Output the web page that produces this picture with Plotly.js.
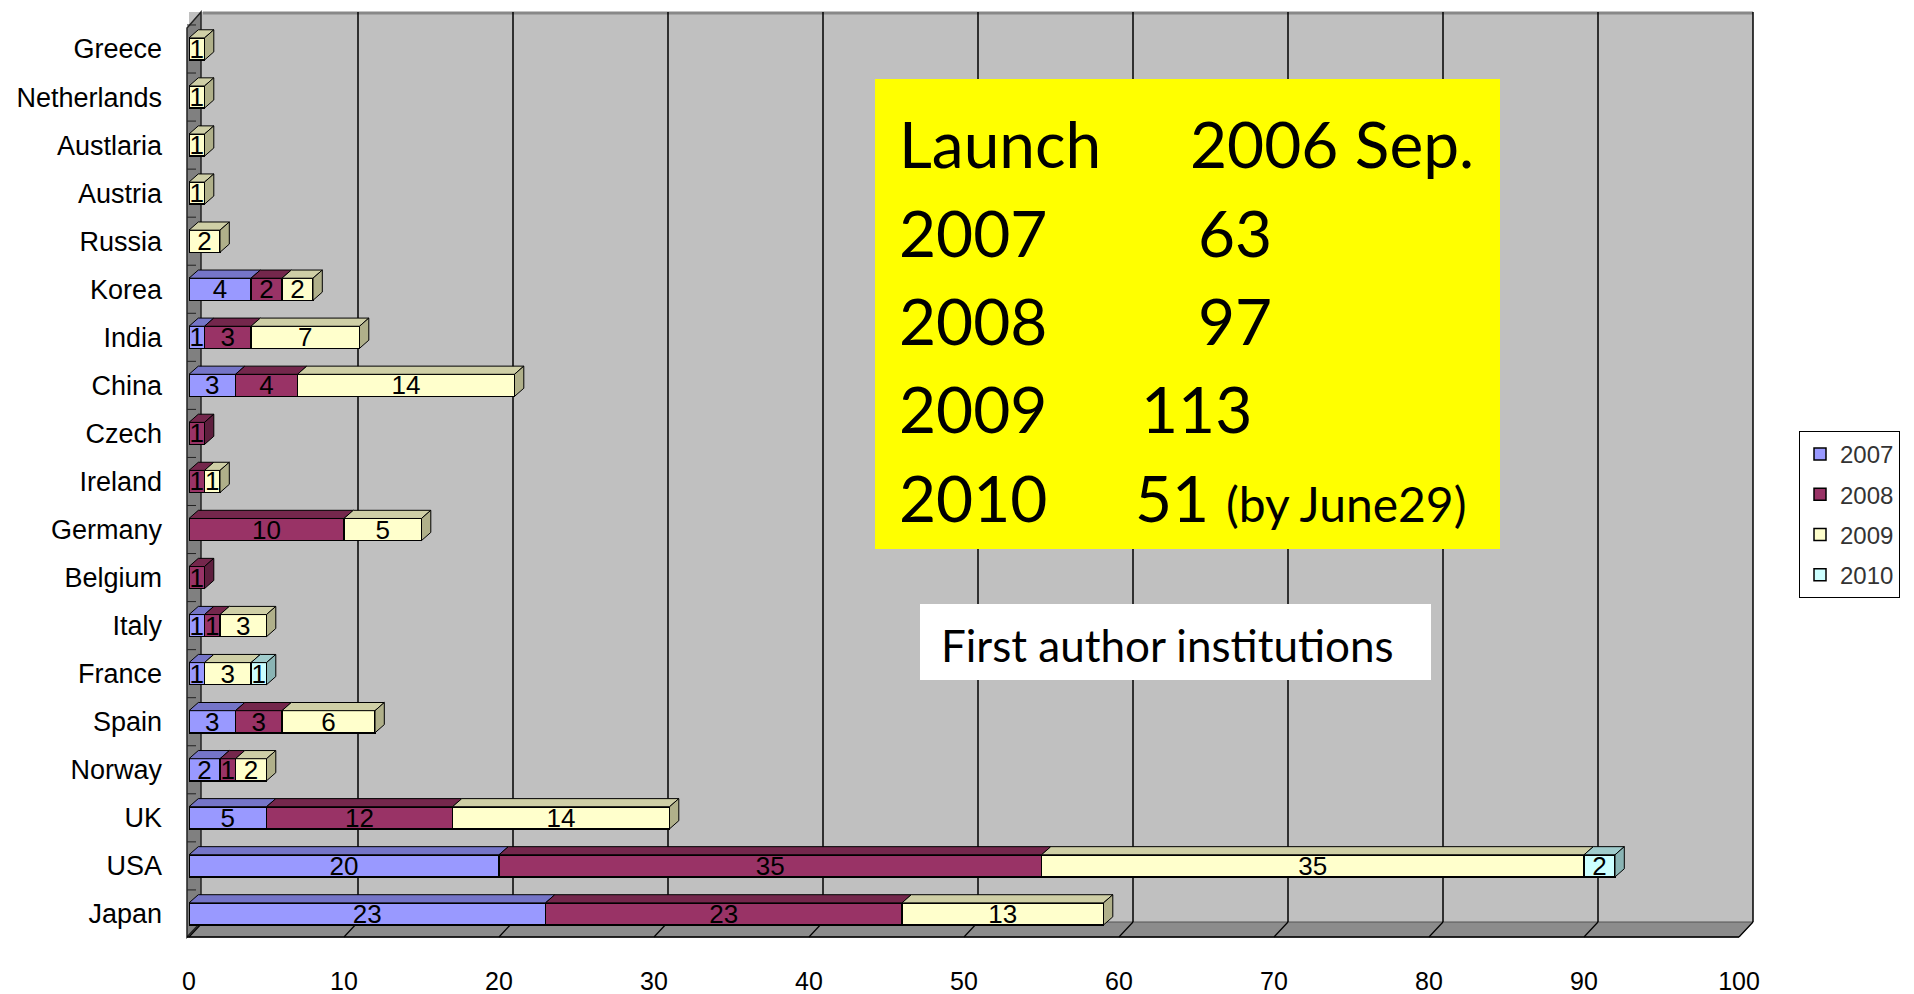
<!DOCTYPE html>
<html><head><meta charset="utf-8">
<script src="https://cdn.plot.ly/plotly-3.0.1.min.js"></script>
<style>html,body{margin:0;padding:0;background:#fff;} #chart{width:1914px;height:994px;}</style>
</head><body><div id="chart"></div>
<script>
// ---- data ----
const countries = ['Greece','Netherlands','Austlaria','Austria','Russia','Korea','India','China','Czech','Ireland','Germany','Belgium','Italy','France','Spain','Norway','UK','USA','Japan'];
const v2007 = [0,0,0,0,0,4,1,3,0,0,0,0,1,1,3,2,5,20,23];
const v2008 = [0,0,0,0,0,2,3,4,1,1,10,1,1,0,3,1,12,35,23];
const v2009 = [1,1,1,1,2,2,7,14,0,1,5,0,3,3,6,2,14,35,13];
const v2010 = [0,0,0,0,0,0,0,0,0,0,0,0,0,1,0,0,0,2,0];
const seriesNames = ['2007','2008','2009','2010'];
const xTickVals = [0,10,20,30,40,50,60,70,80,90,100];
const infoLeft = ['Launch','2007','2008','2009','2010'];
const infoRight = ['2006 Sep.','63','97','113','51'];
const infoNote = '(by June29)';
const boxTitle = 'First author institutions';

// ---- styling ----
const faceColors = ['#9999ff','#993366','#ffffcc','#ccffff'];
const topColors  = ['#7575c8','#74274c','#cfcfa6','#a0cccc'];
const sideColors = ['#6060a8','#5e1f3e','#b0b08a','#8ab4b4'];
const series = [v2007, v2008, v2009, v2010];

// pixel helpers (plot area: x 189..1739, y 12..937)
const L = 189, R = 1739, T = 12, B = 937;
const DX = 14, DY = 15; // 3D wall offset in px
const px = x => (x - L) / (R - L);
const py = y => (B - y) / (B - T);

const barFont = {family: 'Liberation Sans Narrow, Liberation Sans, Arial, sans-serif', size: 26, color: '#000'};

const traces = series.map((vals, s) => ({
  type: 'bar', orientation: 'h', name: seriesNames[s],
  y: countries, x: vals,
  legendgroup: seriesNames[s],
  marker: {color: faceColors[s], line: {color: '#000', width: 1.5}},
  text: vals.map(v => v > 0 ? String(v) : ''),
  textposition: 'inside', insidetextanchor: 'middle', textangle: 0,
  constraintext: 'none', textfont: barFont,
  hoverinfo: 'x+y+name'
}));

const bw = 0.46, dx = 0.6, dy = 0.17;
const shapes = [];
const wallPath = pts => 'M' + pts.map(p => px(p[0]) + ',' + py(p[1])).join(' L') + ' Z';
// back wall right strip
shapes.push({type:'path', xref:'paper', yref:'paper', layer:'below',
  path: wallPath([[R,T],[R+DX,T],[R+DX,B-DY],[R,B]]), fillcolor:'#c0c0c0', line:{color:'#c0c0c0', width:0}});
// floor
shapes.push({type:'path', xref:'paper', yref:'paper', layer:'below',
  path: wallPath([[L-2,B],[L+DX-2,B-DY],[R+DX,B-DY],[R,B]]), fillcolor:'#8c8c8c', line:{color:'#555', width:1}});
// left wall
shapes.push({type:'path', xref:'paper', yref:'paper', layer:'below',
  path: wallPath([[L-2,B],[L-2,T+16],[L+DX-2,T],[L+DX-2,B-DY]]), fillcolor:'#808080', line:{color:'#222', width:1.5}});
// top edge of back wall
shapes.push({type:'line', xref:'paper', yref:'paper', layer:'below',
  x0: px(L+DX), x1: px(R+DX), y0: py(T+1), y1: py(T+1), line:{color:'#888', width:3}});
// back-wall gridlines and floor diagonals at the axis tick values
xTickVals.forEach(v => {
  const xb = v / 100 + DX / (R - L), xf = v / 100;
  if (v > 0) {
    shapes.push({type:'line', xref:'paper', yref:'paper', layer:'below',
      x0: xb, x1: xb, y0: py(T), y1: py(B-DY), line:{color:'#000', width:1.5}});
  }
  shapes.push({type:'line', xref:'paper', yref:'paper', layer:'below',
    x0: xb, x1: xf, y0: py(B-DY), y1: py(B), line:{color:'#000', width:1.2}});
});
// front floor edge
shapes.push({type:'line', xref:'paper', yref:'paper', layer:'below',
  x0: px(L-2), x1: px(R), y0: py(B), y1: py(B), line:{color:'#000', width:1.5}});
// left wall category ticks
countries.forEach((c, i) => {
  shapes.push({type:'line', xref:'paper', yref:'y', layer:'below',
    x0: px(L-2), x1: px(L+7), y0: i - 0.5, y1: i - 0.5, line:{color:'#222', width:1}});
});

// 3D top / side faces computed from the data
countries.forEach((c, i) => {
  let base = 0, last = -1;
  const yt = i - bw/2, yb = i + bw/2;
  series.forEach((vals, s) => {
    const v = vals[i];
    if (v > 0) {
      const x0 = base, x1 = base + v;
      shapes.push({type:'path', xref:'x', yref:'y', layer:'above',
        path: `M${x0},${yt} L${x0+dx},${yt-dy} L${x1+dx},${yt-dy} L${x1},${yt} Z`,
        fillcolor: topColors[s], line:{color:'#000', width:1}});
      last = s;
    }
    base += v;
  });
  if (last >= 0) {
    shapes.push({type:'path', xref:'x', yref:'y', layer:'above',
      path: `M${base},${yt} L${base+dx},${yt-dy} L${base+dx},${yb-dy} L${base},${yb} Z`,
      fillcolor: sideColors[last], line:{color:'#000', width:1}});
  }
});

// info boxes
shapes.push({type:'rect', xref:'paper', yref:'paper', layer:'above',
  x0: px(875), x1: px(1500), y0: py(549), y1: py(79), fillcolor:'#ffff00', line:{width:0}});
shapes.push({type:'rect', xref:'paper', yref:'paper', layer:'above',
  x0: px(920), x1: px(1431), y0: py(680), y1: py(604), fillcolor:'#ffffff', line:{width:0}});

const infoFont = {family: 'Lato, Open Sans, sans-serif', size: 64, color: '#000'};
const lineY = [143, 232, 320, 409, 498];
const rightX = [1188, 1196, 1196, 1139, 1133];
const annotations = [];
infoLeft.forEach((t, k) => {
  annotations.push({xref:'paper', yref:'paper', x: px(897), y: py(lineY[k]), xanchor:'left', yanchor:'middle',
    text: t, showarrow:false, font: infoFont});
  annotations.push({xref:'paper', yref:'paper', x: px(rightX[k]), y: py(lineY[k]), xanchor:'left', yanchor:'middle',
    text: infoRight[k], showarrow:false, font: infoFont});
});
annotations.push({xref:'paper', yref:'paper', x: px(1224), y: py(503), xanchor:'left', yanchor:'middle',
  text: infoNote, showarrow:false, font: {family: 'Lato, Open Sans, sans-serif', size: 48, color:'#000'}});
annotations.push({xref:'paper', yref:'paper', x: px(939), y: py(645), xanchor:'left', yanchor:'middle',
  text: boxTitle, showarrow:false, font: {family: 'Lato, Open Sans, sans-serif', size: 44, color:'#000'}});

const layout = {
  width: 1914, height: 994,
  margin: {l: L, r: 1914 - R, t: T, b: 994 - B, pad: 0},
  paper_bgcolor: '#ffffff', plot_bgcolor: '#c0c0c0',
  barmode: 'stack', bargap: 1 - bw,
  showlegend: true,
  legend: {x: px(1799), y: py(431), xanchor:'left', yanchor:'top',
    bgcolor:'#ffffff', bordercolor:'#000', borderwidth:1,
    traceorder:'grouped', tracegroupgap: 6,
    font: {family: 'Liberation Sans, Arial, sans-serif', size: 24, color: '#333'}},
  xaxis: {range: [0, 100], tickvals: xTickVals, ticktext: xTickVals.map(String),
    showgrid: false, zeroline: false, showline: false,
    ticks: '', ticklabelstandoff: 27,
    tickfont: {family: 'Liberation Sans, Arial, sans-serif', size: 25, color: '#000'}, fixedrange: true},
  yaxis: {type: 'category', range: [18.48, -0.77], showgrid: false, zeroline: false, showline: false,
    ticks: '', ticklabelstandoff: 26,
    tickfont: {family: 'Liberation Sans, Arial, sans-serif', size: 27, color: '#000'}, fixedrange: true},
  shapes: shapes,
  annotations: annotations
};

Plotly.newPlot('chart', traces, layout, {displayModeBar: false, staticPlot: true});
</script>
</body></html>
